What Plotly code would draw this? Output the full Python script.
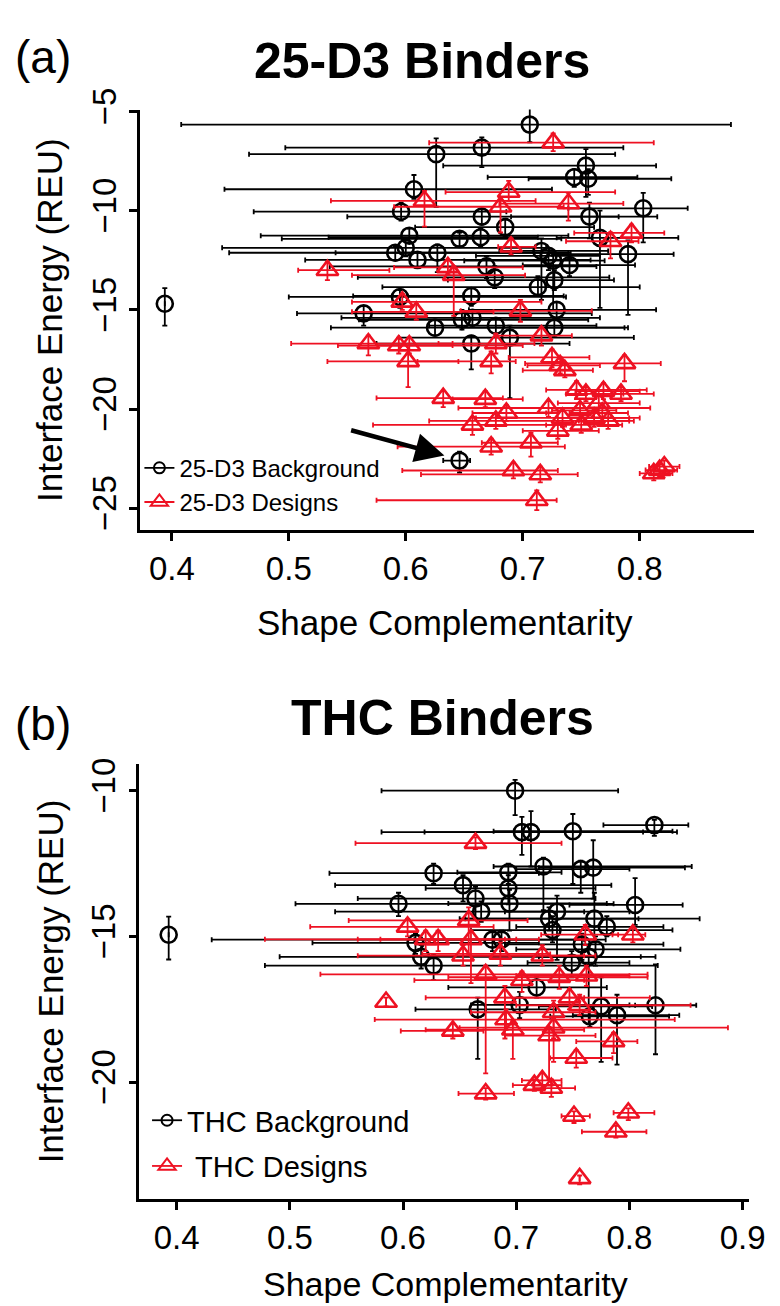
import plotly.graph_objects as go

# ---------------- 25-D3 panel (a) ----------------
bg25_x = [0.706, 0.665, 0.626, 0.754, 0.744, 0.756, 0.607, 0.803, 0.596, 0.665, 0.757, 0.685, 0.603, 0.646,
          0.664, 0.766, 0.790, 0.591, 0.600, 0.610, 0.627, 0.716, 0.722, 0.726, 0.740, 0.669, 0.676, 0.727,
          0.713, 0.656, 0.595, 0.564, 0.729, 0.394, 0.625, 0.648, 0.657, 0.656, 0.677, 0.689, 0.727, 0.646]
bg25_y = [-5.66, -6.82, -7.15, -7.73, -8.31, -8.39, -8.92, -9.88, -10.05, -10.30, -10.30, -10.83, -11.26, -11.42,
          -11.34, -11.37, -12.19, -12.12, -11.87, -12.48, -12.12, -12.03, -12.28, -12.52, -12.74, -12.81, -13.36, -13.50,
          -13.85, -14.30, -14.35, -15.18, -15.00, -14.69, -15.90, -15.50, -15.40, -16.70, -15.80, -16.40, -15.90, -22.60]
bg25_xlo = [0.408, 0.497, 0.466, 0.632, 0.670, 0.705, 0.445, 0.739, 0.470, 0.550, 0.690, 0.608, 0.476, 0.494,
            0.534, 0.729, 0.725, 0.449, 0.443, 0.514, 0.540, 0.680, 0.660, 0.650, 0.700, 0.535, 0.559, 0.636,
            0.580, 0.555, 0.500, 0.507, 0.654, 0.394, 0.536, 0.560, 0.545, 0.575, 0.620, 0.594, 0.648, 0.632]
bg25_xhi = [0.878, 0.786, 0.779, 0.814, 0.798, 0.827, 0.725, 0.841, 0.686, 0.782, 0.815, 0.761, 0.739, 0.733,
            0.713, 0.833, 0.829, 0.739, 0.720, 0.758, 0.741, 0.773, 0.766, 0.770, 0.796, 0.763, 0.774, 0.778,
            0.800, 0.735, 0.737, 0.759, 0.814, 0.394, 0.787, 0.756, 0.766, 0.740, 0.763, 0.795, 0.790, 0.655]
bg25_ytop = [-4.75, -6.30, -6.35, -6.90, -7.90, -7.90, -8.20, -9.10, -9.60, -9.90, -9.60, -10.40, -10.90, -11.10,
             -10.90, -10.00, -11.50, -11.80, -11.50, -12.10, -11.70, -11.40, -11.90, -12.10, -12.40, -12.30, -12.80, -13.00,
             -13.30, -13.90, -14.00, -14.80, -14.60, -13.90, -15.50, -15.00, -15.00, -16.30, -15.40, -15.80, -15.40, -22.15]
bg25_ybot = [-6.55, -7.80, -9.80, -9.30, -8.80, -9.20, -9.40, -11.60, -10.50, -10.70, -11.40, -11.30, -11.60, -11.80,
             -11.80, -14.90, -15.25, -12.50, -12.30, -12.90, -13.10, -14.50, -13.00, -15.00, -13.30, -13.40, -13.90, -14.00,
             -14.30, -14.80, -14.90, -15.80, -15.40, -15.80, -16.30, -16.00, -15.80, -18.00, -16.20, -19.45, -16.30, -23.20]

des25_x = [0.726, 0.616, 0.688, 0.681, 0.739, 0.793, 0.775, 0.690, 0.533, 0.636, 0.641, 0.597, 0.609, 0.698,
           0.568, 0.594, 0.603, 0.602, 0.677, 0.673, 0.716, 0.725, 0.732, 0.736, 0.787, 0.632, 0.668, 0.746,
           0.754, 0.769, 0.784, 0.686, 0.722, 0.749, 0.765, 0.768, 0.773, 0.657, 0.677, 0.734, 0.730, 0.750,
           0.761, 0.673, 0.707, 0.692, 0.715, 0.812, 0.821, 0.712, 0.817]
des25_y = [-6.57, -9.50, -9.06, -9.80, -9.64, -11.12, -11.54, -11.82, -13.00, -12.86, -13.25, -14.60, -15.10, -15.05,
           -16.70, -16.80, -16.80, -17.60, -16.70, -17.60, -16.30, -17.40, -17.80, -18.05, -17.70, -19.45, -19.50, -19.04,
           -19.24, -19.10, -19.24, -20.20, -19.95, -20.07, -19.70, -20.20, -20.60, -20.80, -20.60, -20.45, -21.10, -20.80,
           -20.45, -21.90, -21.70, -23.10, -23.30, -23.25, -22.90, -24.60, -23.08]
des25_xlo = [0.620, 0.536, 0.634, 0.590, 0.680, 0.744, 0.737, 0.679, 0.508, 0.590, 0.554, 0.554, 0.554, 0.647,
             0.502, 0.542, 0.560, 0.533, 0.628, 0.610, 0.677, 0.688, 0.704, 0.700, 0.702, 0.575, 0.640, 0.720,
             0.737, 0.745, 0.760, 0.657, 0.645, 0.725, 0.730, 0.740, 0.748, 0.572, 0.620, 0.660, 0.700, 0.720,
             0.730, 0.593, 0.665, 0.597, 0.613, 0.800, 0.808, 0.575, 0.805]
des25_xhi = [0.812, 0.711, 0.779, 0.735, 0.786, 0.821, 0.799, 0.711, 0.586, 0.700, 0.702, 0.716, 0.675, 0.759,
             0.640, 0.640, 0.700, 0.645, 0.710, 0.694, 0.742, 0.757, 0.766, 0.760, 0.818, 0.683, 0.700, 0.806,
             0.786, 0.800, 0.812, 0.720, 0.809, 0.780, 0.800, 0.790, 0.795, 0.737, 0.791, 0.791, 0.765, 0.785,
             0.800, 0.736, 0.730, 0.730, 0.747, 0.828, 0.834, 0.729, 0.832]
des25_ytop = [-6.10, -9.00, -8.50, -9.30, -9.10, -10.70, -11.10, -11.40, -12.60, -12.50, -12.80, -14.20, -14.70, -14.50,
              -16.30, -16.40, -16.40, -17.20, -16.20, -17.10, -15.90, -17.00, -17.40, -17.70, -17.30, -19.10, -19.10, -18.60,
              -18.90, -18.70, -18.90, -19.80, -19.60, -19.70, -19.30, -19.80, -20.20, -20.40, -20.20, -20.10, -20.70, -20.40,
              -20.10, -21.50, -21.20, -22.70, -22.90, -22.90, -22.60, -24.10, -22.80]
des25_ybot = [-7.00, -10.80, -9.50, -11.10, -10.50, -11.60, -12.40, -12.20, -13.50, -13.20, -15.30, -15.00, -15.50, -15.60,
              -17.30, -17.20, -17.20, -18.90, -17.20, -18.20, -16.80, -17.90, -18.20, -18.40, -18.60, -19.90, -19.90, -19.50,
              -19.60, -19.50, -19.60, -20.60, -20.40, -20.50, -20.20, -20.60, -21.00, -21.30, -21.00, -20.90, -21.50, -21.20,
              -20.90, -22.30, -22.40, -23.50, -23.70, -23.60, -23.20, -25.10, -23.40]

# ---------------- THC panel (b) ----------------
bgthc_x = [0.699, 0.822, 0.705, 0.713, 0.750, 0.627, 0.693, 0.724, 0.757, 0.768, 0.653, 0.693, 0.664, 0.596,
           0.694, 0.669, 0.805, 0.736, 0.729, 0.769, 0.780, 0.732, 0.393, 0.679, 0.687, 0.611, 0.758, 0.770,
           0.616, 0.627, 0.749, 0.764, 0.718, 0.666, 0.703, 0.775, 0.823, 0.765, 0.789]
bgthc_y = [-10.00, -11.18, -11.42, -11.42, -11.39, -12.83, -12.80, -12.60, -12.69, -12.64, -13.24, -13.35, -13.70, -13.88,
           -13.87, -14.15, -13.92, -14.15, -14.39, -14.39, -14.67, -14.78, -14.94, -15.11, -15.11, -15.22, -15.27, -15.44,
           -15.70, -16.00, -15.90, -15.70, -16.75, -17.50, -17.35, -17.40, -17.36, -17.74, -17.70]
bgthc_xlo = [0.581, 0.777, 0.581, 0.619, 0.680, 0.535, 0.648, 0.680, 0.700, 0.720, 0.540, 0.620, 0.560, 0.505,
             0.640, 0.540, 0.747, 0.690, 0.655, 0.650, 0.700, 0.660, 0.393, 0.431, 0.610, 0.520, 0.690, 0.700,
             0.491, 0.478, 0.710, 0.720, 0.640, 0.611, 0.660, 0.720, 0.805, 0.730, 0.750]
bgthc_xhi = [0.790, 0.852, 0.842, 0.812, 0.838, 0.720, 0.740, 0.855, 0.800, 0.849, 0.784, 0.770, 0.770, 0.786,
             0.780, 0.760, 0.847, 0.800, 0.862, 0.808, 0.830, 0.838, 0.393, 0.779, 0.760, 0.720, 0.830, 0.845,
             0.823, 0.825, 0.800, 0.810, 0.780, 0.735, 0.800, 0.820, 0.859, 0.835, 0.844]
bgthc_ytop = [-9.63, -11.00, -10.90, -10.70, -10.80, -12.50, -12.50, -12.30, -12.40, -11.70, -12.90, -12.90, -13.30, -13.50,
              -13.40, -13.80, -13.00, -13.60, -14.00, -13.50, -14.30, -14.30, -14.32, -14.80, -14.80, -14.90, -14.90, -15.00,
              -15.30, -15.60, -15.50, -15.30, -16.40, -17.10, -16.90, -16.40, -15.96, -17.40, -17.00]
bgthc_ybot = [-10.84, -11.55, -12.20, -12.60, -13.20, -13.20, -13.20, -14.10, -13.50, -13.70, -13.80, -13.90, -14.40, -14.30,
              -14.80, -14.50, -14.60, -15.80, -14.80, -15.20, -15.00, -15.20, -15.79, -15.50, -15.50, -15.60, -15.80, -16.00,
              -16.10, -16.50, -16.40, -18.00, -17.10, -19.20, -17.80, -19.30, -19.04, -18.10, -19.40]

desthc_x = [0.664, 0.604, 0.658, 0.620, 0.631, 0.660, 0.761, 0.803, 0.653, 0.686, 0.723, 0.673, 0.705, 0.738,
            0.762, 0.585, 0.690, 0.747, 0.756, 0.733, 0.691, 0.697, 0.644, 0.733, 0.729, 0.786, 0.753, 0.673,
            0.716, 0.723, 0.731, 0.751, 0.799, 0.788, 0.756]
desthc_y = [-11.80, -14.67, -14.45, -15.10, -15.10, -15.10, -14.94, -14.94, -15.66, -15.60, -15.66, -16.30, -16.50, -16.40,
            -16.35, -17.25, -17.10, -17.10, -17.36, -17.60, -17.85, -18.20, -18.24, -18.13, -18.40, -18.60, -19.17, -20.39,
            -20.10, -19.94, -20.20, -21.16, -21.05, -21.70, -23.30]
desthc_xlo = [0.558, 0.518, 0.552, 0.580, 0.478, 0.560, 0.722, 0.785, 0.560, 0.617, 0.660, 0.527, 0.610, 0.640,
              0.700, 0.585, 0.620, 0.690, 0.700, 0.660, 0.575, 0.620, 0.598, 0.650, 0.690, 0.753, 0.730, 0.649,
              0.697, 0.705, 0.715, 0.740, 0.786, 0.758, 0.756]
desthc_xhi = [0.740, 0.680, 0.710, 0.720, 0.690, 0.700, 0.790, 0.814, 0.760, 0.730, 0.770, 0.816, 0.760, 0.816,
              0.800, 0.585, 0.760, 0.818, 0.854, 0.770, 0.840, 0.760, 0.671, 0.887, 0.770, 0.807, 0.785, 0.698,
              0.740, 0.740, 0.752, 0.765, 0.822, 0.815, 0.756]
desthc_ytop = [-11.60, -14.40, -14.00, -14.80, -14.80, -14.80, -14.60, -14.70, -15.30, -15.20, -15.30, -16.00, -16.20, -16.00,
               -16.00, -17.10, -16.70, -16.80, -17.00, -17.20, -17.50, -17.90, -18.00, -17.80, -18.10, -18.30, -18.90, -20.20,
               -19.90, -19.70, -19.90, -21.00, -20.90, -21.50, -23.20]
desthc_ybot = [-12.00, -15.00, -15.60, -15.50, -15.50, -16.60, -15.30, -15.20, -16.00, -16.00, -16.00, -19.70, -16.90, -16.80,
               -16.70, -17.40, -18.50, -17.50, -17.70, -19.30, -18.20, -19.20, -18.50, -18.50, -19.90, -19.00, -19.50, -20.60,
               -20.30, -20.20, -20.50, -21.40, -21.30, -21.90, -23.50]

# axis ticks / labels
top_xticks = [0.4, 0.5, 0.6, 0.7, 0.8]
top_xticktext = ["0.4", "0.5", "0.6", "0.7", "0.8"]
top_yticks = [-5, -10, -15, -20, -25]
top_yticktext = ["\u22125", "\u221210", "\u221215", "\u221220", "\u221225"]
bot_xticks = [0.4, 0.5, 0.6, 0.7, 0.8, 0.9]
bot_xticktext = ["0.4", "0.5", "0.6", "0.7", "0.8", "0.9"]
bot_yticks = [-10, -15, -20]
bot_yticktext = ["\u221210", "\u221215", "\u221220"]

FONT = "Liberation Sans, Arial, sans-serif"
BLACK = "#000000"
RED = "#ee1122"


def series(x, y, xlo, xhi, ytop, ybot, color, symbol, size, xa, ya):
    return go.Scatter(
        x=x, y=y, mode="markers", xaxis=xa, yaxis=ya, showlegend=False, cliponaxis=False,
        marker=dict(symbol=symbol, size=size, color=color,
                    line=dict(color=color, width=2.6)),
        error_x=dict(type="data", symmetric=False,
                     array=[h - v for h, v in zip(xhi, x)],
                     arrayminus=[v - l for l, v in zip(xlo, x)],
                     color=color, thickness=1.8, width=2.5),
        error_y=dict(type="data", symmetric=False,
                     array=[t - v for t, v in zip(ytop, y)],
                     arrayminus=[v - b for b, v in zip(ybot, y)],
                     color=color, thickness=1.8, width=2.5),
    )


fig = go.Figure()
fig.add_trace(series(bg25_x, bg25_y, bg25_xlo, bg25_xhi, bg25_ytop, bg25_ybot, BLACK, "circle-open", 16, "x", "y"))
fig.add_trace(series(des25_x, des25_y, des25_xlo, des25_xhi, des25_ytop, des25_ybot, RED, "triangle-up-open", 19, "x", "y"))
fig.add_trace(series(bgthc_x, bgthc_y, bgthc_xlo, bgthc_xhi, bgthc_ytop, bgthc_ybot, BLACK, "circle-open", 16, "x2", "y2"))
fig.add_trace(series(desthc_x, desthc_y, desthc_xlo, desthc_xhi, desthc_ytop, desthc_ybot, RED, "triangle-up-open", 19, "x2", "y2"))


# legend entries
def legend_entry(name, color, symbol, size, legend, group, xa, ya):
    return go.Scatter(x=[None], y=[None], mode="lines+markers", name=name, legend=legend,
                      legendgroup=group, xaxis=xa, yaxis=ya,
                      line=dict(color=color, width=1.8),
                      marker=dict(symbol=symbol, size=size, color=color,
                                  line=dict(color=color, width=2)))


fig.add_trace(legend_entry("25-D3 Background", BLACK, "circle-open", 11, "legend", "a1", "x", "y"))
fig.add_trace(legend_entry("25-D3 Designs", RED, "triangle-up-open", 15, "legend", "a2", "x", "y"))
fig.add_trace(legend_entry("THC Background", BLACK, "circle-open", 11, "legend2", "b1", "x2", "y2"))
fig.add_trace(legend_entry("\u00a0THC Designs", RED, "triangle-up-open", 15, "legend2", "b2", "x2", "y2"))

axis_common = dict(showline=True, linecolor="black", linewidth=2.5, ticks="outside", ticklen=8,
                   tickwidth=2.5, tickcolor="black", showgrid=False, zeroline=False, mirror=False,
                   tickfont=dict(family=FONT, size=33, color="black"))

fig.update_layout(
    width=780, height=1306, autosize=False,
    margin=dict(l=0, r=0, t=0, b=0),
    paper_bgcolor="white", plot_bgcolor="white",
    xaxis=dict(domain=[0.1731, 0.9769], range=[0.373, 0.898], tickvals=top_xticks, ticktext=top_xticktext,
               anchor="y", **axis_common),
    yaxis=dict(domain=[0.6103, 0.938], range=[-26.1, -4.9], tickvals=top_yticks, ticktext=top_yticktext,
               tickangle=-90, anchor="x", **axis_common),
    xaxis2=dict(domain=[0.1718, 0.9705], range=[0.367, 0.906], tickvals=bot_xticks, ticktext=bot_xticktext,
                anchor="y2", **axis_common),
    yaxis2=dict(domain=[0.0890, 0.428], range=[-24.0, -9.08], tickvals=bot_yticks, ticktext=bot_yticktext,
                tickangle=-90, anchor="x2", **axis_common),
    legend=dict(x=0.172, y=0.676, xanchor="left", yanchor="top", bgcolor="rgba(0,0,0,0)",
                font=dict(family=FONT, size=24, color="black"), tracegroupgap=0, itemwidth=30),
    legend2=dict(x=0.182, y=0.170, xanchor="left", yanchor="top", bgcolor="rgba(0,0,0,0)",
                 font=dict(family=FONT, size=29, color="black"), tracegroupgap=5, itemwidth=30),
)

ann = []
ann.append(dict(text="(a)", x=0.046, y=0.9786, xref="paper", yref="paper", showarrow=False,
                xanchor="center", yanchor="middle", font=dict(family=FONT, size=46, color="black")))
ann.append(dict(text="(b)", x=0.046, y=0.4594, xref="paper", yref="paper", showarrow=False,
                xanchor="center", yanchor="middle", font=dict(family=FONT, size=46, color="black")))
ann.append(dict(text="<b>25-D3 Binders</b>", x=0.542, y=0.976, xref="paper", yref="paper", showarrow=False,
                xanchor="center", yanchor="middle", font=dict(family=FONT, size=50, color="black")))
ann.append(dict(text="<b>THC Binders</b>", x=0.569, y=0.464, xref="paper", yref="paper", showarrow=False,
                xanchor="center", yanchor="middle", font=dict(family=FONT, size=50, color="black")))
ann.append(dict(text="Shape Complementarity", x=0.572, y=0.5383, xref="paper", yref="paper", showarrow=False,
                xanchor="center", yanchor="middle", font=dict(family=FONT, size=35, color="black")))
ann.append(dict(text="Shape Complementarity", x=0.572, y=0.006, xref="paper", yref="paper", showarrow=False,
                xanchor="center", yanchor="bottom", font=dict(family=FONT, size=34, color="black")))
for yy in (0.774, 0.2585):
    ann.append(dict(text="Interface Energy (REU)", x=0.055, y=yy, xref="paper", yref="paper", showarrow=False,
                    textangle=-90, xanchor="center", yanchor="middle", font=dict(family=FONT, size=35, color="black")))
# arrow pointing at the highlighted background point
ann.append(dict(text="", x=0.633, y=-22.35, xref="x", yref="y", ax=0.552, ay=-21.05, axref="x", ayref="y",
                showarrow=True, arrowhead=2, arrowsize=1.3, arrowwidth=4.5, arrowcolor="black"))
fig.update_layout(annotations=ann)

fig.write_html("out.html")
